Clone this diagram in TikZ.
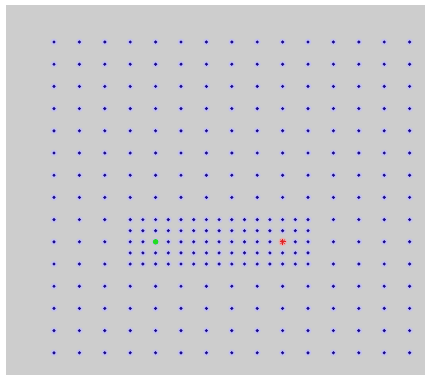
\documentclass[tikz,border=0pt]{standalone}
\usepackage{xcolor}
\usepackage{tikz}
\usetikzlibrary{calc}
\definecolor{bggray}{HTML}{CDCDCD}
\definecolor{dotblue}{HTML}{1A0A8C}
\definecolor{halo}{HTML}{C4C2EE}
\definecolor{startgreen}{HTML}{22DD22}
\definecolor{goalred}{HTML}{E02020}
\definecolor{goalhalo}{HTML}{EBB0B0}

\begin{document}
\begin{tikzpicture}[
  x=1pt, y=-1pt,
  dot/.style={fill=dotblue, draw=none},
  glow/.style={fill=halo, draw=none},
  startpt/.style={fill=startgreen, draw=none},
  goalpt/.style={draw=goalred, line width=0.8pt}
]

% canvas
\useasboundingbox (0,0) rectangle (425,375);
\fill[white] (0,0) rectangle (425,375);
\fill[bggray] (6,5) rectangle (425,375);

% coarse grid
\foreach \i in {0,...,14}
  \foreach \j in {0,...,14} {
    \fill[glow] (54+25.4*\i, 42+22.2*\j) circle (3.4);
    \fill[dot] (54+25.4*\i, 42+22.2*\j) circle (1.7);
  }

% fine grid
\foreach \k in {0,...,14}
  \foreach \m in {0,...,4} {
    \fill[glow] (130.2+12.7*\k, 219.6+11.1*\m) circle (3.4);
    \fill[dot] (130.2+12.7*\k, 219.6+11.1*\m) circle (1.7);
  }

% start and goal
\coordinate (start) at (155.6,241.8);
\coordinate (goal) at (282.6,241.8);
\fill[startpt] (start) circle (2.8);
\fill[goalhalo] (goal) circle (4.2);
\draw[goalpt] ($(goal)+(-3,0)$) -- ++(6,0);
\draw[goalpt] ($(goal)+(0,-3)$) -- ++(0,6);
\draw[goalpt, line width=0.5pt] ($(goal)+(-2.2,-2.2)$) -- ++(4.4,4.4);
\draw[goalpt, line width=0.5pt] ($(goal)+(-2.2,2.2)$) -- ++(4.4,-4.4);

\end{tikzpicture}
\end{document}
